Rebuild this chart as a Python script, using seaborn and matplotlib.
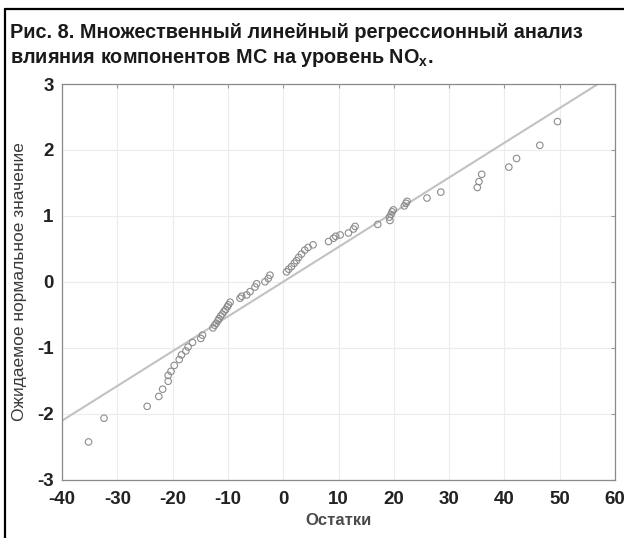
import matplotlib
matplotlib.use("Agg")
import matplotlib.pyplot as plt
import seaborn as sns
import pandas as pd
from matplotlib.lines import Line2D

# ---- data ----
residuals = [
    -35.2, -32.4, -24.6, -22.5, -21.8, -20.8, -20.8, -20.3, -19.7, -18.8, -18.4, -17.6, -17.2, -16.4, -14.9, -14.6,
    -12.7, -12.4, -12.1, -11.8, -11.6, -11.3, -11.0, -10.7, -10.4, -10.1, -9.9, -9.6,
    -7.8, -7.5, -6.6, -6.0, -5.1, -4.8, -3.3, -2.7, -2.4,
    0.6, 1.0, 1.5, 2.0, 2.4, 2.8, 3.3, 3.9, 4.5, 5.4,
    8.2, 9.1, 9.5, 10.3, 11.8, 12.7, 13.0, 17.1,
    19.3, 19.2, 19.5, 19.7, 19.9,
    21.9, 22.2, 22.4,
    26.0, 28.5, 35.1, 35.4, 35.9, 40.8, 42.2, 46.4, 49.6,
]
expected_normal = [
    -2.43, -2.07, -1.89, -1.74, -1.63, -1.51, -1.42, -1.36, -1.27, -1.18, -1.11, -1.05, -0.99, -0.92, -0.86, -0.81,
    -0.70, -0.66, -0.63, -0.59, -0.56, -0.52, -0.49, -0.45, -0.42, -0.38, -0.35, -0.31,
    -0.25, -0.22, -0.20, -0.15, -0.08, -0.03, 0.00, 0.05, 0.10,
    0.15, 0.19, 0.23, 0.28, 0.32, 0.37, 0.42, 0.48, 0.52, 0.56,
    0.61, 0.66, 0.69, 0.71, 0.74, 0.80, 0.84, 0.87,
    0.93, 0.98, 1.02, 1.06, 1.09,
    1.15, 1.19, 1.22,
    1.27, 1.36, 1.43, 1.52, 1.63, 1.74, 1.87, 2.07, 2.43,
]
line_slope = 0.0527
line_intercept = 0.0
x_ticks = [-40, -30, -20, -10, 0, 10, 20, 30, 40, 50, 60]
y_ticks = [-3, -2, -1, 0, 1, 2, 3]
title_line1 = "Рис. 8. Множественный линейный регрессионный анализ"
title_line2 = "влияния компонентов МС на уровень NO$_\\mathbf{x}$."
x_label = "Остатки"
y_label = "Ожидаемое нормальное значение"

df = pd.DataFrame({"res": residuals, "exp": expected_normal})

sns.set_style("white")
plt.rcParams["font.family"] = ["Liberation Sans", "DejaVu Sans"]
plt.rcParams["axes.unicode_minus"] = False
plt.rcParams["mathtext.fontset"] = "custom"
plt.rcParams["mathtext.bf"] = "Liberation Sans:bold"
plt.rcParams["mathtext.rm"] = "Liberation Sans"

fig = plt.figure(figsize=(6.24, 5.38), dpi=100)
ax = fig.add_axes([62 / 624, 1 - 479.5 / 538, (615 - 62) / 624, (479.5 - 84) / 538])

ax.axline((0, line_intercept), slope=line_slope, color="#c2c2c2", lw=1.5, zorder=2)
sns.scatterplot(data=df, x="res", y="exp", ax=ax, marker="o", s=22,
                facecolors="none", edgecolor="#8c8c8c", linewidth=0.8, zorder=3)

ax.set_xlim(-40, 60)
ax.set_ylim(-3, 3)
ax.set_xticks(x_ticks)
ax.set_yticks(y_ticks)
ax.grid(True, color="#ececec", lw=0.8)
ax.set_axisbelow(True)
for sp in ax.spines.values():
    sp.set_color("#8a8a8a")
    sp.set_linewidth(0.9)
ax.tick_params(axis="both", direction="in", length=3, color="#9a9a9a",
               top=True, right=True, labelsize=13.5, labelcolor="#222222")
ax.tick_params(axis="x", pad=8)
ax.tick_params(axis="y", pad=6)
for lab in ax.get_xticklabels() + ax.get_yticklabels():
    lab.set_fontweight("bold")

ax.set_xlabel(x_label, fontsize=12, fontweight="bold", color="#4a4a4a", labelpad=4)
ax.set_ylabel(y_label, fontsize=12.5, fontweight="normal", color="#3a3a3a", labelpad=7)

fig.text(10 / 624, 1 - 33 / 538, title_line1, fontsize=14.3, fontweight="bold",
         color="#1a1a1a", va="center", ha="left")
fig.text(10 / 624, 1 - 58 / 538, title_line2, fontsize=14.3, fontweight="bold",
         color="#1a1a1a", va="center", ha="left")

# outer frame (left and top edges)
fig.add_artist(Line2D([5 / 624, 5 / 624], [0, 1 - 9 / 538], color="black", lw=1.6,
                      transform=fig.transFigure))
fig.add_artist(Line2D([5 / 624, 1], [1 - 9 / 538, 1 - 9 / 538], color="black", lw=1.6,
                      transform=fig.transFigure))

fig.savefig("out.png", dpi=100)
